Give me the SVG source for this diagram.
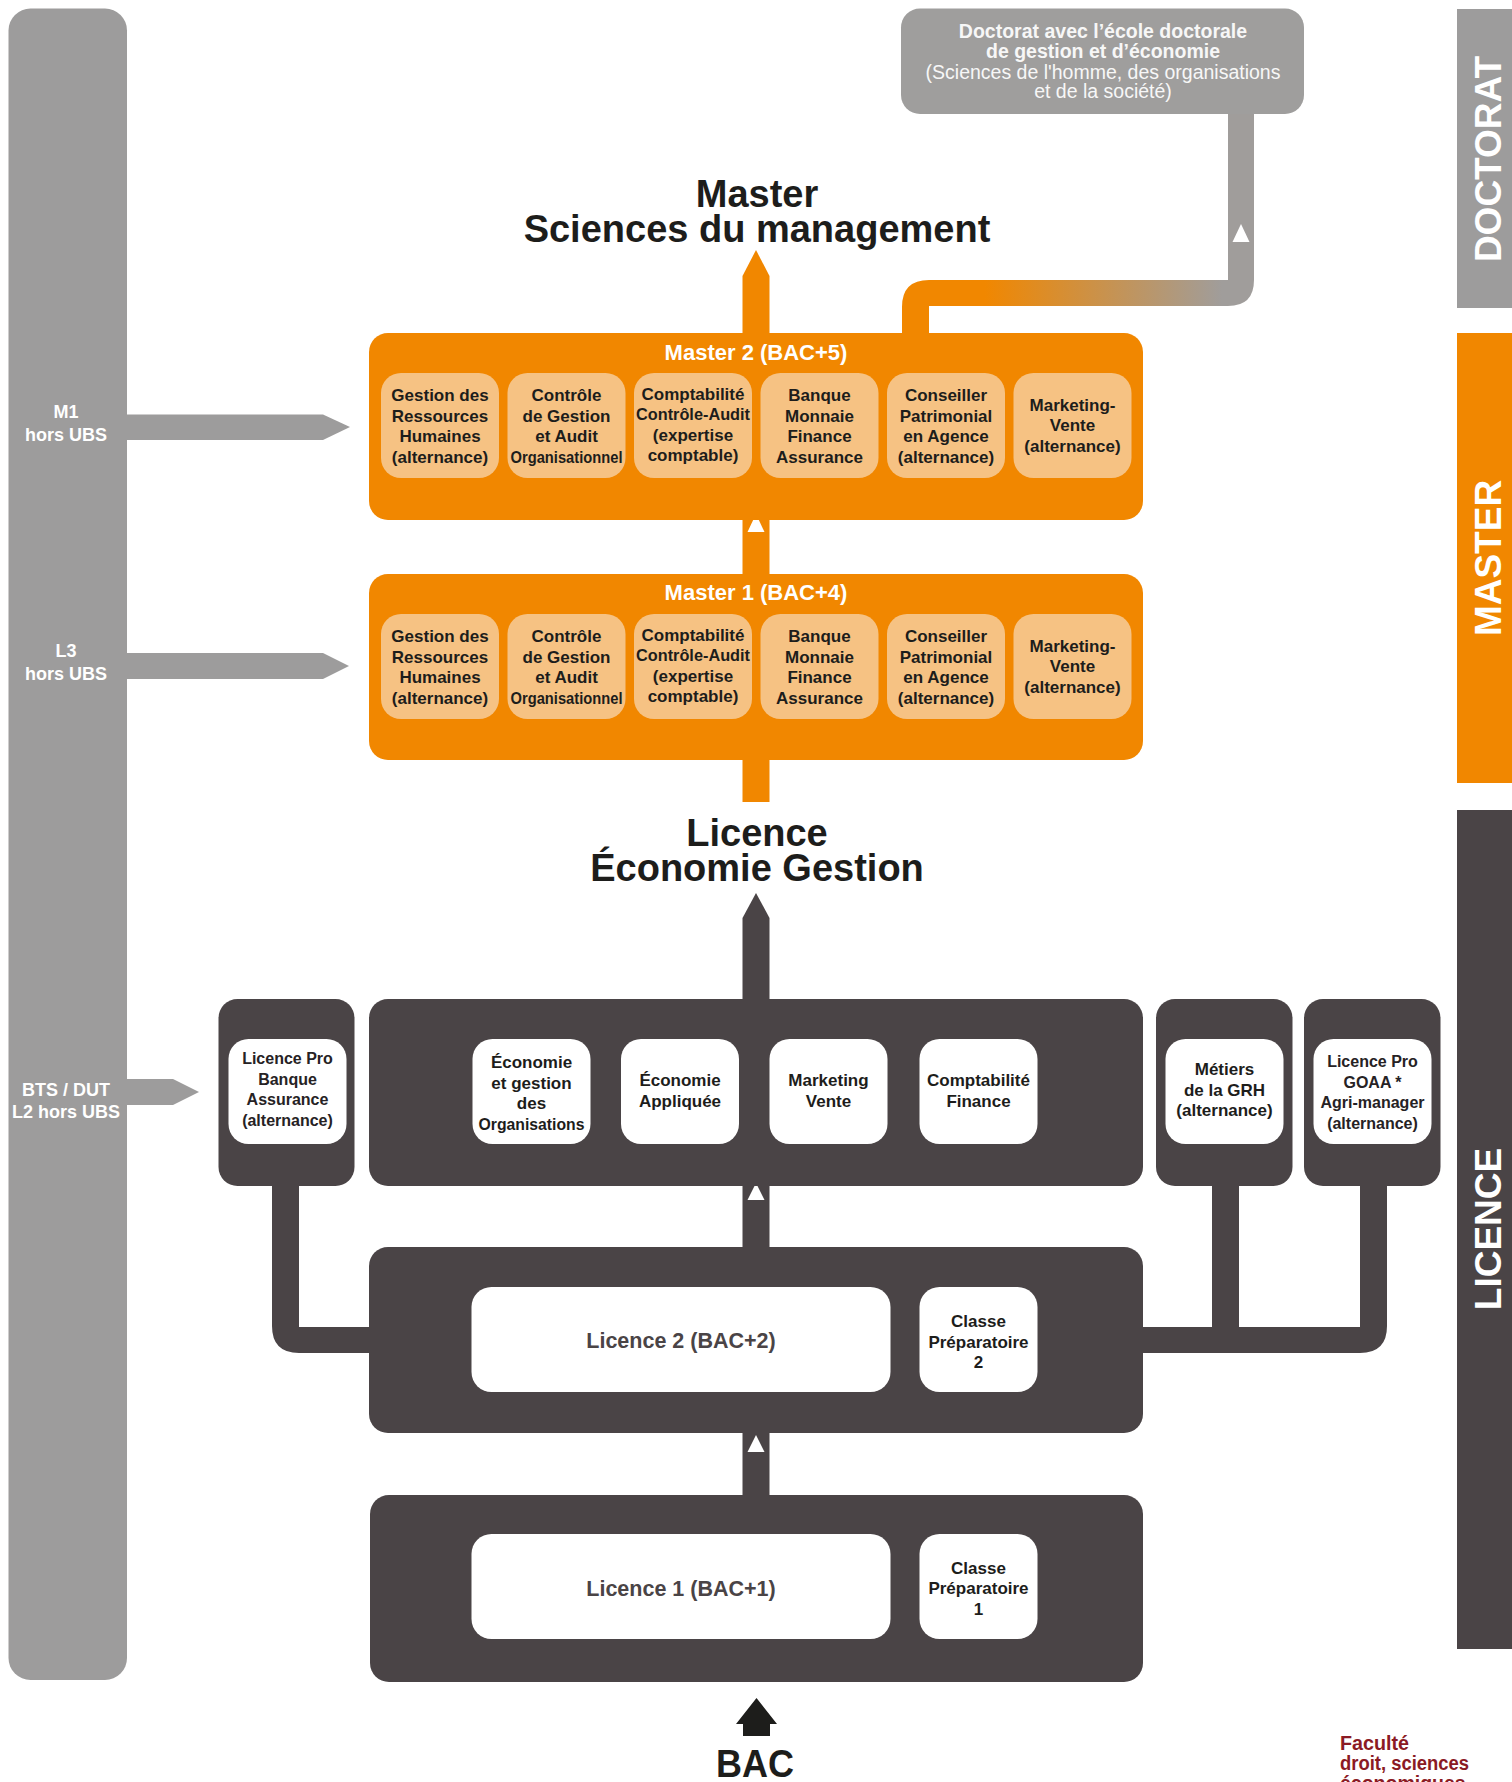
<svg xmlns="http://www.w3.org/2000/svg" width="1512" height="1782" viewBox="0 0 1512 1782">
<defs>
<style>
text{font-family:"Liberation Sans",Arial,sans-serif;text-anchor:middle}
.side{fill:#9d9c9c}
.orange{fill:#f18700}
.light{fill:#f6c283}
.dark{fill:#4a4446}
.white{fill:#ffffff}
.bx{font-size:17px;font-weight:bold;fill:#1d1d1b}
.lp{font-size:16px;font-weight:bold;fill:#262224}
.wl{font-size:18px;font-weight:bold;fill:#ffffff}
.lvl{font-size:22px;font-weight:bold;fill:#ffffff}
.title{font-size:38px;font-weight:bold;fill:#1d1d1b}
.doc{font-size:19.5px;fill:#f7f7f7}
.vert{font-size:37px;font-weight:bold;fill:#ffffff}
.big{font-size:21.5px;font-weight:bold;fill:#4a4446}
.fac{text-anchor:start;font-size:19.5px;font-weight:bold;fill:#8b1a24}
.tri{fill:#ffffff}
</style>
<linearGradient id="gr" gradientUnits="userSpaceOnUse" x1="985" y1="0" x2="1222" y2="0">
<stop offset="0" stop-color="#f18700"/>
<stop offset="1" stop-color="#a09d9b"/>
</linearGradient>
</defs>

<rect width="1512" height="1782" fill="#ffffff"/>

<!-- left side bar -->
<g id="left-bar">
<rect class="side" x="8.5" y="8.5" width="118.5" height="1671.5" rx="22"/>
<text class="wl" x="66" y="418">M1<tspan x="66" y="441">hors UBS</tspan></text>
<text class="wl" x="66" y="657">L3<tspan x="66" y="680">hors UBS</tspan></text>
<text class="wl" x="66" y="1096">BTS / DUT<tspan x="66" y="1118">L2 hors UBS</tspan></text>
</g>

<!-- right level bars -->
<g id="bar-doctorat">
<rect class="side" x="1457" y="9" width="55" height="299"/>
<text class="vert" transform="translate(1501,159) rotate(-90)" x="0" y="0">DOCTORAT</text>
</g>
<g id="bar-master">
<rect class="orange" x="1457" y="333" width="55" height="450"/>
<text class="vert" transform="translate(1501,558) rotate(-90)" x="0" y="0">MASTER</text>
</g>
<g id="bar-licence">
<rect class="dark" x="1457" y="810" width="55" height="839"/>
<text class="vert" transform="translate(1501,1229) rotate(-90)" x="0" y="0">LICENCE</text>
</g>

<!-- connectors -->
<g id="connectors">
<polygon class="side" points="127,414.5 323,414.5 350,427 323,440 127,440"/>
<polygon class="side" points="127,653 323,653 349,666 323,679 127,679"/>
<polygon class="side" points="127,1079 173,1079 199,1092 173,1105 127,1105"/>
<path fill="url(#gr)" d="M902 334 L902 307 Q902 280 929 280 L1228 280 L1228 112 L1254 112 L1254 280 Q1254 306 1228 306 L929 306 L929 334 Z"/>
<polygon class="tri" points="1241,224 1249.5,242 1232.5,242"/>
<polygon class="orange" points="742.5,334 742.5,276 756,250 769.5,276 769.5,334"/>
<rect class="orange" x="742.5" y="518" width="27" height="57"/>
<rect class="orange" x="742.5" y="758" width="27" height="44"/>
<polygon class="tri" points="756,514 764.5,532 747.5,532"/>
<polygon class="dark" points="742.5,1000 742.5,918 756,893 769.5,918 769.5,1000"/>
<rect class="dark" x="742.5" y="1184" width="27" height="65"/>
<rect class="dark" x="742.5" y="1431" width="27" height="66"/>
<polygon class="tri" points="756,1183 764.5,1200 747.5,1200"/>
<polygon class="tri" points="756,1435 764.5,1452 747.5,1452"/>
<path class="dark" d="M272 1182 L299 1182 L299 1327 L370 1327 L370 1353 L299 1353 Q272 1353 272 1326 Z"/>
<path class="dark" d="M1142 1327 L1212 1327 L1212 1182 L1239 1182 L1239 1327 L1360 1327 L1360 1182 L1387 1182 L1387 1326 Q1387 1353 1360 1353 L1142 1353 Z"/>
<polygon fill="#1d1d1b" points="743,1736 743,1724 736,1724 756.5,1698 777,1724 770,1724 770,1736"/>
</g>

<!-- doctorat -->
<g id="doctorat">
<rect x="901" y="8.5" width="403" height="105.5" rx="19" fill="#9f9e9d"/>
<text class="doc" x="1103" y="38" font-weight="bold">Doctorat avec l’école doctorale<tspan x="1103" y="58">de gestion et d’économie</tspan></text>
<text class="doc" x="1103" y="78.5">(Sciences de l'homme, des organisations<tspan x="1103" y="97.5">et de la société)</tspan></text>
</g>

<g id="title-master">
<text class="title" x="757" y="207">Master<tspan x="757" y="242">Sciences du management</tspan></text>
</g>

<!-- Master 2 -->
<g id="master2">
<rect class="orange" x="369" y="333" width="774" height="187" rx="19"/>
<text class="lvl" x="756" y="360">Master 2 (BAC+5)</text>
<rect class="light" x="381" y="373" width="118" height="105" rx="20"/>
<rect class="light" x="507.5" y="373" width="118" height="105" rx="20"/>
<rect class="light" x="634" y="373" width="118" height="105" rx="20"/>
<rect class="light" x="760.5" y="373" width="118" height="105" rx="20"/>
<rect class="light" x="887" y="373" width="118" height="105" rx="20"/>
<rect class="light" x="1013.5" y="373" width="118" height="105" rx="20"/>
<text class="bx" x="440" y="401">Gestion des<tspan x="440" y="421.5">Ressources</tspan><tspan x="440" y="442">Humaines</tspan><tspan x="440" y="462.5">(alternance)</tspan></text>
<text class="bx" x="566.5" y="401">Contrôle<tspan x="566.5" y="421.5">de Gestion</tspan><tspan x="566.5" y="442">et Audit</tspan></text>
<text class="bx" x="566.5" y="462.5" textLength="112" lengthAdjust="spacingAndGlyphs">Organisationnel</text>
<text class="bx" x="693" y="399.5">Comptabilité</text>
<text class="bx" x="693" y="420" textLength="114" lengthAdjust="spacingAndGlyphs">Contrôle-Audit</text>
<text class="bx" x="693" y="440.5">(expertise<tspan x="693" y="461">comptable)</tspan></text>
<text class="bx" x="819.5" y="401">Banque<tspan x="819.5" y="421.5">Monnaie</tspan><tspan x="819.5" y="442">Finance</tspan><tspan x="819.5" y="462.5">Assurance</tspan></text>
<text class="bx" x="946" y="401">Conseiller<tspan x="946" y="421.5">Patrimonial</tspan><tspan x="946" y="442">en Agence</tspan><tspan x="946" y="462.5">(alternance)</tspan></text>
<text class="bx" x="1072.5" y="410.5">Marketing-<tspan x="1072.5" y="431">Vente</tspan><tspan x="1072.5" y="451.5">(alternance)</tspan></text>
</g>

<!-- Master 1 -->
<g id="master1">
<rect class="orange" x="369" y="574" width="774" height="186" rx="19"/>
<text class="lvl" x="756" y="600">Master 1 (BAC+4)</text>
<rect class="light" x="381" y="614" width="118" height="105" rx="20"/>
<rect class="light" x="507.5" y="614" width="118" height="105" rx="20"/>
<rect class="light" x="634" y="614" width="118" height="105" rx="20"/>
<rect class="light" x="760.5" y="614" width="118" height="105" rx="20"/>
<rect class="light" x="887" y="614" width="118" height="105" rx="20"/>
<rect class="light" x="1013.5" y="614" width="118" height="105" rx="20"/>
<text class="bx" x="440" y="642">Gestion des<tspan x="440" y="662.5">Ressources</tspan><tspan x="440" y="683">Humaines</tspan><tspan x="440" y="703.5">(alternance)</tspan></text>
<text class="bx" x="566.5" y="642">Contrôle<tspan x="566.5" y="662.5">de Gestion</tspan><tspan x="566.5" y="683">et Audit</tspan></text>
<text class="bx" x="566.5" y="703.5" textLength="112" lengthAdjust="spacingAndGlyphs">Organisationnel</text>
<text class="bx" x="693" y="640.5">Comptabilité</text>
<text class="bx" x="693" y="661" textLength="114" lengthAdjust="spacingAndGlyphs">Contrôle-Audit</text>
<text class="bx" x="693" y="681.5">(expertise<tspan x="693" y="702">comptable)</tspan></text>
<text class="bx" x="819.5" y="642">Banque<tspan x="819.5" y="662.5">Monnaie</tspan><tspan x="819.5" y="683">Finance</tspan><tspan x="819.5" y="703.5">Assurance</tspan></text>
<text class="bx" x="946" y="642">Conseiller<tspan x="946" y="662.5">Patrimonial</tspan><tspan x="946" y="683">en Agence</tspan><tspan x="946" y="703.5">(alternance)</tspan></text>
<text class="bx" x="1072.5" y="651.5">Marketing-<tspan x="1072.5" y="672">Vente</tspan><tspan x="1072.5" y="692.5">(alternance)</tspan></text>
</g>

<g id="title-licence">
<text class="title" x="757" y="846">Licence<tspan x="757" y="881">Économie Gestion</tspan></text>
</g>

<!-- Licence Pro Banque Assurance -->
<g id="lp-banque">
<rect class="dark" x="218.5" y="999" width="136" height="187" rx="19"/>
<rect class="white" x="228.5" y="1039" width="118" height="105" rx="20"/>
<text class="lp" x="287.5" y="1064">Licence Pro<tspan x="287.5" y="1084.5">Banque</tspan><tspan x="287.5" y="1105">Assurance</tspan><tspan x="287.5" y="1125.5">(alternance)</tspan></text>
</g>

<!-- Licence 3 -->
<g id="licence3">
<rect class="dark" x="369" y="999" width="774" height="187" rx="19"/>
<rect class="white" x="472.5" y="1039" width="118" height="105" rx="20"/>
<rect class="white" x="621" y="1039" width="118" height="105" rx="20"/>
<rect class="white" x="769.5" y="1039" width="118" height="105" rx="20"/>
<rect class="white" x="919.5" y="1039" width="118" height="105" rx="20"/>
<text class="bx" x="531.5" y="1068">Économie<tspan x="531.5" y="1088.5">et gestion</tspan><tspan x="531.5" y="1109">des</tspan></text>
<text class="bx" x="531.5" y="1129.5" textLength="106" lengthAdjust="spacingAndGlyphs">Organisations</text>
<text class="bx" x="680" y="1086">Économie<tspan x="680" y="1106.5">Appliquée</tspan></text>
<text class="bx" x="828.5" y="1086">Marketing<tspan x="828.5" y="1106.5">Vente</tspan></text>
<text class="bx" x="978.5" y="1086">Comptabilité<tspan x="978.5" y="1106.5">Finance</tspan></text>
</g>

<!-- Métiers GRH -->
<g id="metiers-grh">
<rect class="dark" x="1156" y="999" width="136.5" height="187" rx="19"/>
<rect class="white" x="1165.5" y="1039" width="118" height="105" rx="20"/>
<text class="bx" x="1224.5" y="1075">Métiers<tspan x="1224.5" y="1095.5">de la GRH</tspan><tspan x="1224.5" y="1116">(alternance)</tspan></text>
</g>

<!-- Licence Pro GOAA -->
<g id="lp-goaa">
<rect class="dark" x="1304" y="999" width="136.5" height="187" rx="19"/>
<rect class="white" x="1313.5" y="1039" width="118" height="105" rx="20"/>
<text class="lp" x="1372.5" y="1067">Licence Pro<tspan x="1372.5" y="1087.5">GOAA *</tspan><tspan x="1372.5" y="1108">Agri-manager</tspan><tspan x="1372.5" y="1128.5">(alternance)</tspan></text>
</g>

<!-- Licence 2 -->
<g id="licence2">
<rect class="dark" x="369" y="1247" width="774" height="186" rx="19"/>
<rect class="white" x="471.5" y="1287" width="419" height="105" rx="20"/>
<text class="big" x="681" y="1348">Licence 2 (BAC+2)</text>
<rect class="white" x="919.5" y="1287" width="118" height="105" rx="20"/>
<text class="bx" x="978.5" y="1327">Classe<tspan x="978.5" y="1347.5">Préparatoire</tspan><tspan x="978.5" y="1368">2</tspan></text>
</g>

<!-- Licence 1 -->
<g id="licence1">
<rect class="dark" x="370" y="1495" width="773" height="187" rx="19"/>
<rect class="white" x="471.5" y="1534" width="419" height="105" rx="20"/>
<text class="big" x="681" y="1596">Licence 1 (BAC+1)</text>
<rect class="white" x="919.5" y="1534" width="118" height="105" rx="20"/>
<text class="bx" x="978.5" y="1573.5">Classe<tspan x="978.5" y="1594">Préparatoire</tspan><tspan x="978.5" y="1614.5">1</tspan></text>
</g>

<g id="bac">
<text x="755" y="1777" textLength="78" lengthAdjust="spacingAndGlyphs" style="font-size:38px;font-weight:bold;fill:#1d1d1b">BAC</text>
</g>

<g id="faculte">
<text class="fac" x="1340" y="1750" textLength="69" lengthAdjust="spacingAndGlyphs">Faculté</text>
<text class="fac" x="1340" y="1770" textLength="129" lengthAdjust="spacingAndGlyphs">droit, sciences</text>
<text class="fac" x="1340" y="1790">économiques</text>
</g>
</svg>
